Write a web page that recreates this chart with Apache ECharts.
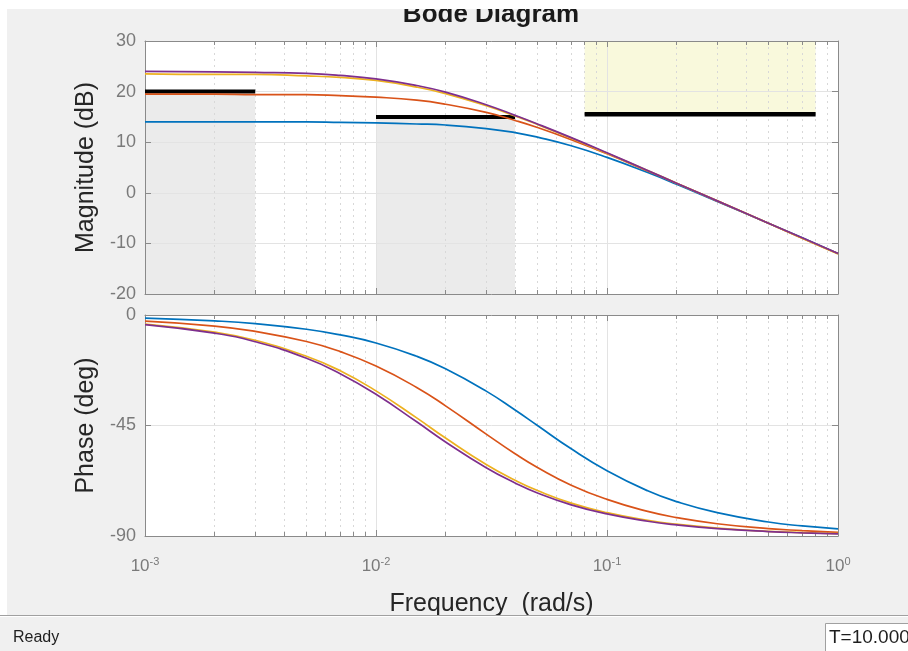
<!doctype html>
<html lang="en">
<head>
  <meta charset="UTF-8">
  <title>Bode Diagram</title>
  <style>html, body {margin: 0; padding: 0; background: #f0f0f0;}</style>
</head>
<body>
<div id="main" style="width: 908px;height: 651px"></div>
<script src="https://cdn.jsdelivr.net/npm/echarts@6/dist/echarts.min.js"></script>
<script>
    const freq = [0.001, 0.002, 0.003, 0.005, 0.007, 0.01, 0.015, 0.02, 0.03, 0.04, 0.05, 0.07, 0.1, 0.15, 0.2, 0.3, 0.5, 0.7, 1.0];

    const magBlue   = [14.0, 14.0, 14.0, 14.0, 13.9, 13.8, 13.6, 13.4, 12.7, 11.9, 11.0, 9.3, 7.0, 4.0, 1.7, -1.7, -6.0, -8.9, -12.0];
    const magOrange = [19.5, 19.5, 19.4, 19.4, 19.2, 18.9, 18.3, 17.5, 15.9, 14.3, 12.9, 10.5, 7.7, 4.3, 1.9, -1.6, -6.0, -9.0, -12.0];
    const magYellow = [23.5, 23.4, 23.4, 23.1, 22.8, 22.2, 20.9, 19.6, 17.2, 15.2, 13.5, 10.8, 7.8, 4.4, 1.9, -1.6, -6.0, -9.0, -12.1];
    const magPurple = [24.0, 23.9, 23.8, 23.6, 23.2, 22.5, 21.2, 19.9, 17.4, 15.3, 13.6, 10.9, 7.9, 4.4, 1.9, -1.6, -6.0, -8.9, -12.0];

    const phaseBlue   = [-1.3, -2.4, -3.5, -5.8, -8.1, -11.4, -16.8, -21.9, -31.0, -38.7, -45.0, -54.5, -63.4, -71.6, -76.0, -80.5, -84.3, -85.9, -87.1];
    const phaseOrange = [-2.5, -4.5, -6.7, -10.8, -14.9, -20.8, -29.5, -37.0, -48.5, -56.5, -62.1, -69.3, -75.1, -80.0, -82.5, -85.0, -87.0, -87.8, -88.5];
    const phaseYellow = [-3.7, -7.0, -10.3, -16.8, -22.7, -30.9, -41.9, -50.1, -60.9, -67.3, -71.5, -76.6, -80.5, -83.6, -85.2, -86.8, -88.1, -88.6, -89.0];
    const phasePurple = [-3.9, -7.4, -10.9, -17.6, -23.9, -32.3, -43.5, -51.7, -62.2, -68.4, -72.5, -77.3, -81.0, -84.0, -85.5, -87.0, -88.2, -88.7, -89.1];

    // magnitude bounds: lower bounds (grey below), upper bound (yellow above)
    const lowBoundFreq = [[0.001, 0.003], [0.01, 0.04]];
    const lowBoundMag = [20, 15];
    const upBoundFreq = [0.08, 0.8];
    const upBoundMag = 15.5;

    const magRange = [-20, 30];
    const phaseRange = [-90, 0];

    const colors = ['#0072BD', '#D95319', '#EDB120', '#7E2F8E'];
    const magData = [magBlue, magOrange, magYellow, magPurple];
    const phaseData = [phaseBlue, phaseOrange, phaseYellow, phasePurple];

    const font = '"Liberation Sans", Arial, sans-serif';
    const frame = '#8a8a8a';
    const gridLine = '#e3e3e3';

    let myChart = echarts.init(document.getElementById('main'));

    function pairs(ys) {
        return freq.map((f, i) => [f, ys[i]]);
    }

    function xAxis(gridIndex, position, showLabels) {
        let bottom = position === 'bottom';
        return {
            type: 'log',
            logBase: 10,
            gridIndex: gridIndex,
            position: position,
            min: 0.001,
            max: 1,
            z: 2,
            axisLine: {show: true, onZero: false, lineStyle: {color: frame}},
            axisTick: {show: true, inside: true, length: 6, lineStyle: {color: frame}},
            minorTick: {show: true, splitNumber: 9, length: 4, lineStyle: {color: frame}},
            splitLine: {show: bottom, lineStyle: {color: gridLine}},
            minorSplitLine: {show: bottom, lineStyle: {color: '#d8d8d8', type: [2, 4]}},
            axisLabel: showLabels ? {
                margin: 20,
                formatter: v => '{b|10}{s|' + Math.round(Math.log10(v)) + '}',
                rich: {
                    b: {fontFamily: font, fontSize: 17, color: '#7a7a7a', lineHeight: 20},
                    s: {fontFamily: font, fontSize: 11, color: '#7a7a7a', verticalAlign: 'top', lineHeight: 12}
                }
            } : {show: false},
            name: showLabels ? 'Frequency  (rad/s)' : '',
            nameLocation: 'middle',
            nameGap: 56,
            nameTextStyle: {fontFamily: font, fontSize: 25, color: '#262626'}
        };
    }

    function yAxis(gridIndex, position, range, interval, name) {
        let left = position === 'left';
        return {
            type: 'value',
            gridIndex: gridIndex,
            position: position,
            min: range[0],
            max: range[1],
            interval: interval,
            z: 2,
            axisLine: {show: true, lineStyle: {color: frame}},
            axisTick: {show: true, inside: true, length: 6, lineStyle: {color: frame}},
            splitLine: {show: left, lineStyle: {color: gridLine}},
            axisLabel: {show: left, margin: 9, fontFamily: font, fontSize: 18, color: '#7a7a7a'},
            name: left ? name : '',
            nameLocation: 'middle',
            nameGap: 45,
            nameRotate: 90,
            nameTextStyle: {fontFamily: font, fontSize: 25, color: '#262626'}
        };
    }

    let series = [];

    // shaded bound regions, kept under the grid lines
    let areas = lowBoundFreq.map((fr, i) => [
        {xAxis: fr[0], yAxis: lowBoundMag[i], itemStyle: {color: '#ebebeb'}},
        {xAxis: fr[1], yAxis: magRange[0]}
    ]);
    areas.push([
        {xAxis: upBoundFreq[0], yAxis: magRange[1], itemStyle: {color: '#f9f9dc'}},
        {xAxis: upBoundFreq[1], yAxis: upBoundMag}
    ]);
    series.push({
        type: 'line', xAxisIndex: 0, yAxisIndex: 0, data: [], z: 1, silent: true,
        markArea: {silent: true, data: areas}
    });

    // bound lines
    lowBoundFreq.forEach((fr, i) => {
        series.push({
            type: 'line', xAxisIndex: 0, yAxisIndex: 0, z: 4, silent: true, symbol: 'none',
            lineStyle: {color: '#000', width: 4},
            data: [[fr[0], lowBoundMag[i]], [fr[1], lowBoundMag[i]]]
        });
    });
    series.push({
        type: 'line', xAxisIndex: 0, yAxisIndex: 0, z: 4, silent: true, symbol: 'none',
        lineStyle: {color: '#000', width: 4.5},
        data: [[upBoundFreq[0], upBoundMag], [upBoundFreq[1], upBoundMag]]
    });

    magData.forEach((d, i) => {
        series.push({
            type: 'line', xAxisIndex: 0, yAxisIndex: 0, z: 5, symbol: 'none', smooth: true,
            lineStyle: {color: colors[i], width: 1.7},
            data: pairs(d)
        });
    });
    phaseData.forEach((d, i) => {
        series.push({
            type: 'line', xAxisIndex: 2, yAxisIndex: 2, z: 5, symbol: 'none', smooth: true,
            lineStyle: {color: colors[i], width: 1.7},
            data: pairs(d)
        });
    });

    myChart.setOption({
        animation: false,
        backgroundColor: '#f0f0f0',
        grid: [
            {left: 145, right: 70, top: 41, height: 253, show: true, backgroundColor: '#fff', borderWidth: 0, outerBoundsMode: 'none'},
            {left: 145, right: 70, top: 315, height: 221, show: true, backgroundColor: '#fff', borderWidth: 0, outerBoundsMode: 'none'}
        ],
        xAxis: [
            xAxis(0, 'bottom', false),
            xAxis(0, 'top', false),
            xAxis(1, 'bottom', true),
            xAxis(1, 'top', false)
        ],
        yAxis: [
            yAxis(0, 'left', magRange, 10, 'Magnitude (dB)'),
            yAxis(0, 'right', magRange, 10, ''),
            yAxis(1, 'left', phaseRange, 45, 'Phase (deg)'),
            yAxis(1, 'right', phaseRange, 45, '')
        ],
        series: series,
        graphic: [
            {type: 'text', x: 491, y: 15, z: 50,
                style: {text: 'Bode Diagram', font: 'bold 26px ' + font, fill: '#1a1a1a', textAlign: 'center', textVerticalAlign: 'middle'}},
            {type: 'rect', shape: {x: 0, y: 0, width: 908, height: 9}, style: {fill: '#fff'}, z: 100},
            {type: 'rect', shape: {x: 0, y: 0, width: 7, height: 615}, style: {fill: '#fff'}, z: 100},
            {type: 'rect', shape: {x: 0, y: 615, width: 908, height: 1}, style: {fill: '#a0a0a0'}, z: 100},
            {type: 'rect', shape: {x: 0, y: 616, width: 908, height: 1}, style: {fill: '#fff'}, z: 100},
            {type: 'text', x: 13, y: 638, z: 100,
                style: {text: 'Ready', font: '16px ' + font, fill: '#1e1e1e', textVerticalAlign: 'middle'}},
            {type: 'rect', shape: {x: 825.5, y: 623.5, width: 100, height: 30}, style: {fill: '#fff', stroke: '#a0a0a0'}, z: 100},
            {type: 'text', x: 829, y: 638, z: 101,
                style: {text: 'T=10.000', font: '19px ' + font, fill: '#1e1e1e', textVerticalAlign: 'middle'}}
        ]
    });
</script>
</body>
</html>
